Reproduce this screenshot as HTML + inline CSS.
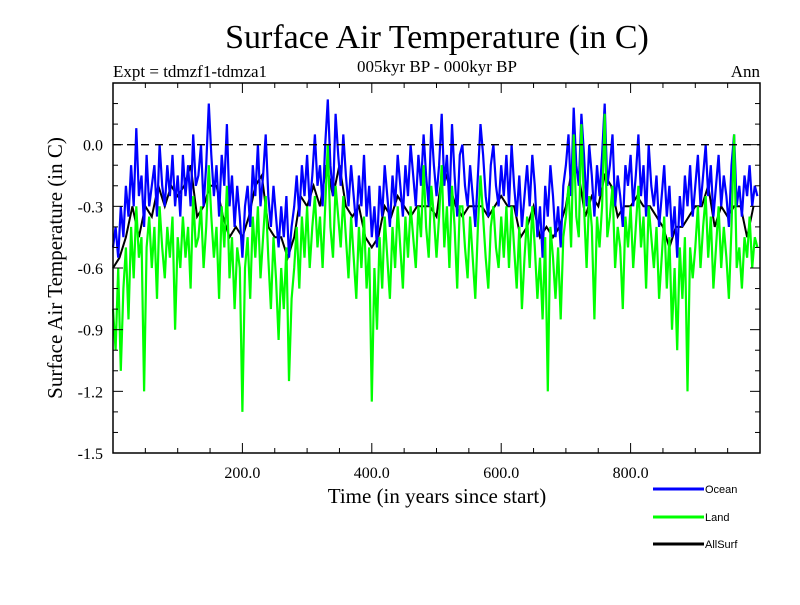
<!DOCTYPE html>
<html><head><meta charset="utf-8"><style>
body{margin:0;background:#fff}
svg text{font-family:"Liberation Serif",serif}
</style></head><body>
<svg id="c" width="800" height="600" xmlns="http://www.w3.org/2000/svg">
<text x="437" y="48" font-size="34" text-anchor="middle">Surface Air Temperature (in C)</text>
<text x="437" y="72" font-size="17" text-anchor="middle">005kyr BP - 000kyr BP</text>
<text x="113" y="77" font-size="17">Expt = tdmzf1-tdmza1</text>
<text x="760" y="77" font-size="17" text-anchor="end">Ann</text>
<text transform="translate(62,268) rotate(-90)" font-size="21" text-anchor="middle">Surface Air Temperature (in C)</text>
<text x="437" y="503" font-size="21" text-anchor="middle">Time (in years since start)</text>
<g id="plot"></g>
<g id="axes"></g>
<g>
<line x1="653" y1="489" x2="704" y2="489" stroke="#0000ff" stroke-width="3"/>
<text x="705" y="493" style="font-family:'Liberation Sans',sans-serif" font-size="11">Ocean</text>
<line x1="653" y1="517" x2="704" y2="517" stroke="#00ff00" stroke-width="3"/>
<text x="705" y="521" style="font-family:'Liberation Sans',sans-serif" font-size="11">Land</text>
<line x1="653" y1="544" x2="704" y2="544" stroke="#000" stroke-width="3"/>
<text x="705" y="548" style="font-family:'Liberation Sans',sans-serif" font-size="11">AllSurf</text>
</g>
</svg>
<script>
const ocean=[-0.5,-0.4,-0.55,-0.3,-0.45,-0.2,-0.35,-0.1,-0.3,0.08,-0.25,-0.15,-0.4,-0.05,-0.3,-0.2,-0.1,-0.35,0.0,-0.2,-0.3,-0.1,-0.25,-0.05,-0.3,
-0.15,-0.35,-0.05,-0.25,-0.1,-0.3,0.05,-0.2,-0.15,0.0,-0.3,-0.1,0.2,-0.05,-0.25,-0.1,-0.35,-0.05,-0.2,0.1,-0.3,-0.15,-0.4,-0.2,-0.35,
-0.55,-0.3,-0.2,-0.4,-0.1,-0.25,0.0,-0.3,-0.15,0.05,-0.25,-0.4,-0.2,-0.35,-0.5,-0.3,-0.45,-0.25,-0.55,-0.4,-0.3,-0.15,-0.35,-0.1,-0.25,
-0.05,-0.3,-0.15,0.05,-0.2,-0.1,-0.3,0.0,0.22,-0.1,-0.25,0.15,-0.05,-0.2,0.05,-0.15,-0.3,-0.1,-0.25,-0.4,-0.15,-0.3,-0.05,-0.35,-0.2,
-0.45,-0.3,-0.5,-0.2,-0.35,-0.1,-0.25,-0.4,-0.15,-0.3,-0.05,-0.2,-0.35,-0.1,-0.25,0.0,-0.15,-0.3,-0.05,-0.2,0.05,-0.15,-0.3,0.1,-0.1,
-0.25,-0.1,0.15,-0.2,-0.05,-0.3,0.1,-0.15,-0.35,-0.05,0.0,-0.2,-0.3,-0.1,-0.25,-0.4,-0.15,0.1,-0.05,-0.25,-0.35,-0.1,0.0,-0.2,-0.3,
-0.1,-0.25,-0.05,-0.3,0.0,-0.2,-0.35,-0.15,-0.4,-0.25,-0.1,-0.3,-0.05,-0.2,-0.45,-0.3,-0.55,-0.2,-0.35,-0.1,-0.25,-0.45,-0.3,-0.5,-0.2,
-0.1,0.05,-0.25,0.18,-0.1,-0.2,0.15,-0.05,-0.3,0.0,-0.15,-0.35,-0.1,-0.25,-0.05,0.2,-0.2,-0.1,0.05,-0.3,-0.15,-0.25,-0.4,-0.1,-0.2,
-0.05,-0.3,-0.15,0.05,-0.25,-0.1,-0.35,0.0,-0.2,-0.3,-0.15,-0.4,-0.25,-0.1,-0.35,-0.2,-0.45,-0.3,-0.55,-0.25,-0.4,-0.15,-0.3,-0.1,-0.35,
-0.2,-0.05,-0.3,-0.15,0.0,-0.25,-0.1,-0.35,-0.2,-0.05,-0.3,-0.15,-0.25,-0.4,-0.1,0.05,-0.3,-0.2,-0.35,-0.15,-0.25,-0.1,-0.3,-0.2,-0.25];
const land=[-0.8,-1.0,-0.6,-1.1,-0.7,-0.5,-0.85,-0.4,-0.65,-0.3,-0.55,-0.45,-1.2,-0.5,-0.35,-0.6,-0.4,-0.75,-0.3,-0.5,-0.65,-0.4,-0.55,-0.35,-0.9,
-0.45,-0.6,-0.35,-0.55,-0.4,-0.7,-0.25,-0.5,-0.45,-0.3,-0.6,-0.4,-0.1,-0.35,-0.55,-0.4,-0.75,-0.3,-0.5,-0.2,-0.65,-0.45,-0.8,-0.5,-0.6,
-1.3,-0.6,-0.45,-0.75,-0.35,-0.55,-0.3,-0.65,-0.45,-0.25,-0.55,-0.8,-0.45,-0.65,-0.95,-0.6,-0.8,-0.5,-1.15,-0.75,-0.6,-0.4,-0.7,-0.35,-0.55,
-0.3,-0.6,-0.4,-0.25,-0.5,-0.35,-0.6,-0.3,0.0,-0.4,-0.55,-0.2,-0.35,-0.5,-0.25,-0.45,-0.65,-0.35,-0.55,-0.75,-0.4,-0.6,-0.35,-0.7,-0.5,
-1.25,-0.6,-0.9,-0.45,-0.7,-0.35,-0.55,-0.75,-0.4,-0.6,-0.3,-0.5,-0.7,-0.35,-0.55,-0.3,-0.45,-0.6,-0.3,-0.45,-0.1,-0.4,-0.55,-0.2,-0.35,
-0.55,-0.35,-0.1,-0.5,-0.3,-0.6,-0.2,-0.4,-0.7,-0.3,-0.3,-0.5,-0.65,-0.35,-0.55,-0.75,-0.4,-0.15,-0.35,-0.55,-0.7,-0.4,-0.3,-0.5,-0.6,
-0.35,-0.55,-0.3,-0.6,-0.3,-0.5,-0.7,-0.4,-0.8,-0.55,-0.35,-0.6,-0.3,-0.5,-0.75,-0.55,-0.85,-0.45,-1.2,-0.4,-0.55,-0.75,-0.5,-0.85,-0.45,
-0.35,-0.2,-0.5,0.05,-0.35,-0.45,0.1,-0.3,-0.6,-0.25,-0.4,-0.85,-0.35,-0.5,-0.3,0.15,-0.45,-0.35,-0.2,-0.6,-0.4,-0.5,-0.8,-0.35,-0.5,
-0.3,-0.6,-0.4,-0.2,-0.5,-0.35,-0.7,-0.3,-0.45,-0.6,-0.4,-0.75,-0.55,-0.35,-0.7,-0.45,-0.9,-0.6,-1.0,-0.5,-0.75,-0.45,-1.2,-0.5,-0.65,
-0.5,-0.3,-0.6,-0.4,-0.25,-0.55,-0.35,-0.7,-0.5,-0.3,-0.6,-0.4,-0.55,-0.75,-0.4,0.05,-0.6,-0.5,-0.7,-0.45,-0.55,-0.35,-0.6,-0.45,-0.5];
const allSurf=[-0.6,-0.55,-0.45,-0.3,-0.45,-0.3,-0.35,-0.2,-0.3,-0.2,
-0.25,-0.2,-0.1,-0.35,-0.3,-0.2,-0.2,-0.35,-0.45,-0.4,
-0.45,-0.35,-0.2,-0.15,-0.4,-0.45,-0.45,-0.55,-0.45,-0.25,
-0.3,-0.2,-0.3,-0.1,-0.25,-0.1,-0.3,-0.35,-0.3,-0.45,
-0.5,-0.45,-0.3,-0.35,-0.25,-0.3,-0.35,-0.3,-0.3,-0.3,
-0.35,-0.1,-0.2,-0.3,-0.35,-0.3,-0.3,-0.3,-0.35,-0.3,
-0.25,-0.3,-0.3,-0.45,-0.4,-0.3,-0.45,-0.4,-0.45,-0.4,
-0.3,-0.1,-0.15,-0.35,-0.25,-0.3,-0.15,-0.2,-0.35,-0.3,
-0.3,-0.25,-0.3,-0.3,-0.35,-0.4,-0.5,-0.4,-0.4,-0.35,
-0.3,-0.3,-0.2,-0.4,-0.3,-0.35,-0.3,-0.3,-0.45,-0.3];
const yTickLabels=["0.0","-0.3","-0.6","-0.9","-1.2","-1.5"];
const yTickValues=[0,-0.3,-0.6,-0.9,-1.2,-1.5];
const xTickLabels=["200.0","400.0","600.0","800.0"];
const xTickValues=[200,400,600,800];

const L=113,R=760,T=83,B=453,X0=0,X1=1000,Y0=-1.5,Y1=0.3;
const xs=v=>L+(v-X0)/(X1-X0)*(R-L);
const ys=v=>B-(v-Y0)/(Y1-Y0)*(B-T);
const NS="http://www.w3.org/2000/svg";
const plot=document.getElementById('plot'),axes=document.getElementById('axes');
function mk(tag,attrs,parent){const e=document.createElementNS(NS,tag);for(const k in attrs)e.setAttribute(k,attrs[k]);parent.appendChild(e);return e;}
function series(arr,color,name,w){
  const step=(X1-X0)/arr.length;
  const pts=arr.map((v,i)=>xs(i*step).toFixed(1)+","+ys(v).toFixed(1)).join(" ");
  const p=mk('polyline',{points:pts,fill:'none',stroke:color,'stroke-width':w},plot);
  
  
}
series(allSurf,'#000','allsurf-line',2);
series(ocean,'#0000ff','ocean-line',2.2);
series(land,'#00ff00','land-line',2.2);
const zl=mk('line',{x1:L,x2:R,y1:ys(0),y2:ys(0),stroke:'#000','stroke-width':1.3,'stroke-dasharray':'8,6'},axes);


const fr=mk('rect',{x:L,y:T,width:R-L,height:B-T,fill:'none',stroke:'#000','stroke-width':1.5},axes);


for(let v=-1.5;v<=0.3001;v+=0.1){
  const y=ys(v);const major=Math.abs(Math.round(v*10)%3)===0;const len=major?10:5;
  mk('line',{x1:L,x2:L+len,y1:y,y2:y,stroke:'#000'},axes);
  mk('line',{x1:R,x2:R-len,y1:y,y2:y,stroke:'#000'},axes);
}
for(let v=50;v<1000;v+=50){
  const x=xs(v);const len=(v%200===0)?10:5;
  mk('line',{x1:x,x2:x,y1:B,y2:B-len,stroke:'#000'},axes);
  mk('line',{x1:x,x2:x,y1:T,y2:T+len,stroke:'#000'},axes);
}
yTickValues.forEach((v,i)=>{
  const t=mk('text',{x:103,y:ys(v)+6,'font-size':16,'text-anchor':'end'},axes);
  t.textContent=yTickLabels[i];
  
  
});
xTickValues.forEach((v,i)=>{
  const t=mk('text',{x:xs(v),y:478,'font-size':16,'text-anchor':'middle'},axes);
  t.textContent=xTickLabels[i];
  
  
});
</script>
</body></html>
